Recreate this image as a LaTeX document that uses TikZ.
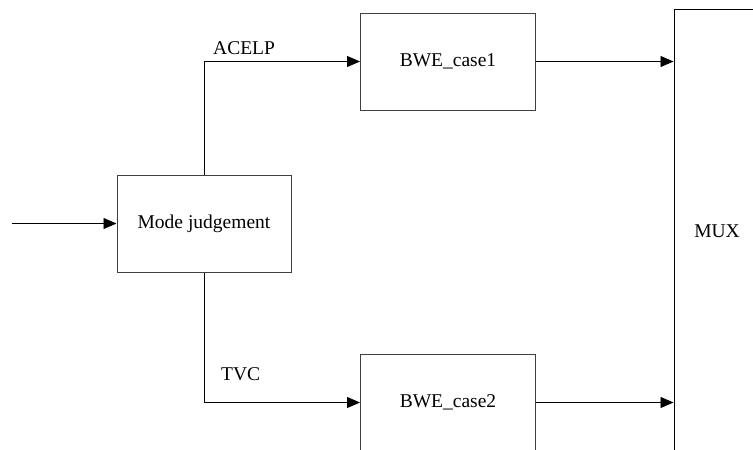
\documentclass[tikz,border=0pt]{standalone}
\usepackage{fontspec}
\setmainfont{Liberation Serif}
\usetikzlibrary{arrows.meta}
\begin{document}
\begin{tikzpicture}[x=1pt,y=-1pt,
  every node/.style={font=\fontsize{19.5}{23}\selectfont},
  block/.style={draw=black!75,line width=1pt,rectangle,inner sep=0pt,
    minimum width=175pt,minimum height=97pt},
  flow/.style={draw=black,line width=0.9pt,-{Triangle[length=13pt,width=11pt]}},
  tag/.style={anchor=west,inner sep=0pt}]
\useasboundingbox (0,0) rectangle (753,450);

% blocks
\node[block,minimum width=174pt] (mode) at (204,223.5) {Mode judgement};
\node[block] (bwe1) at (448,61.5) {BWE\_case1};
\node[block] (bwe2) at (448,402.5) {BWE\_case2};
\node[draw=black,line width=1pt,rectangle,inner sep=0pt,
  minimum width=86pt,minimum height=444pt] (mux) at (717,231) {MUX};

\coordinate (in) at (12,223.5);

% connectors
\draw[flow] (in) -- (mode.west);
\draw[flow] (mode.north) |- (bwe1.west);
\draw[flow] (mode.south) |- (bwe2.west);
\draw[flow] (bwe1.east) -- (mux.west |- bwe1.east);
\draw[flow] (bwe2.east) -- (mux.west |- bwe2.east);

% branch labels
\node[tag] (acelp) at (213,48) {ACELP};
\node[tag] (tvc) at (221,374) {TVC};
\end{tikzpicture}
\end{document}
